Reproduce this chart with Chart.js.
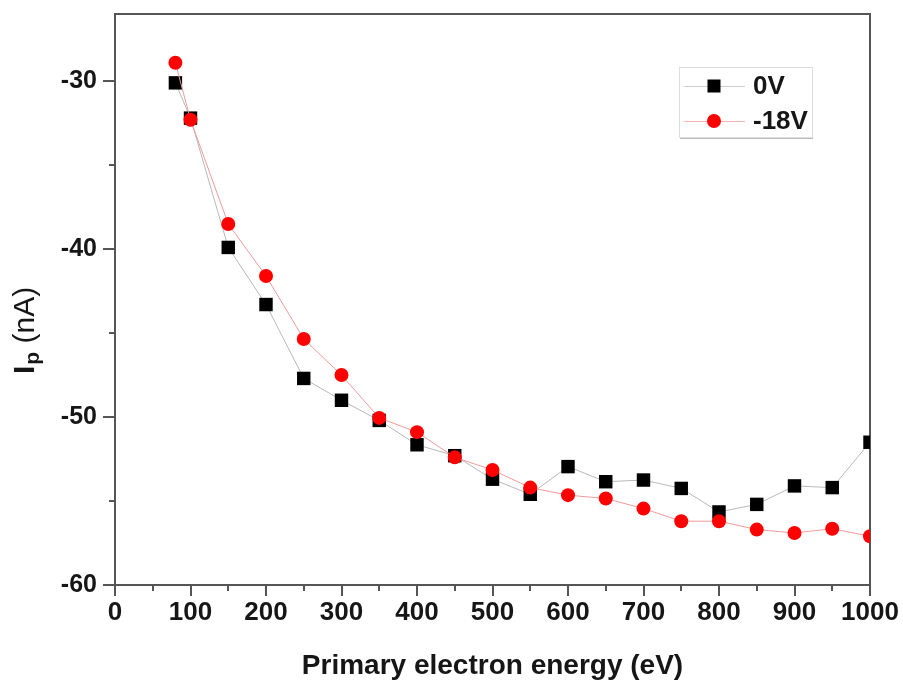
<!DOCTYPE html>
<html>
<head>
<meta charset="utf-8">
<script src="https://cdn.jsdelivr.net/npm/chart.js@4.4.0/dist/chart.umd.min.js"></script>
<style>
  html, body { margin: 0; padding: 0; background: #fff; }
  #wrap { width: 903px; height: 686px; }
</style>
</head>
<body>
<div id="wrap"><canvas id="grafico"></canvas></div>
<script>
// ===== DADOS =====
const energias = [80, 100, 150, 200, 250, 300, 350, 400, 450, 500, 550, 600, 650, 700, 750, 800, 850, 900, 950, 1000];
const corrente0V = [-30.1, -32.2, -39.9, -43.3, -47.7, -49.0, -50.2, -51.65, -52.3, -53.7, -54.6, -52.95, -53.85, -53.75, -54.25, -55.65, -55.2, -54.1, -54.2, -51.5];
const corrente18V = [-28.9, -32.3, -38.5, -41.6, -45.35, -47.5, -50.05, -50.9, -52.4, -53.15, -54.2, -54.65, -54.85, -55.45, -56.2, -56.2, -56.7, -56.9, -56.65, -57.1];
const nomesSeries = ['0V', '-18V'];
const ticksMaioresX = [0, 100, 200, 300, 400, 500, 600, 700, 800, 900, 1000];
const ticksMaioresY = [-60, -50, -40, -30];

const FONTE = '"Liberation Sans", Arial, sans-serif';
const COR_TEXTO = '#161616';
const COR_EIXO = '#555';

function pontos(ys) {
    return energias.map((e, i) => ({ x: e, y: ys[i] }));
}

// ===== MOLDURA + TICKS + TITULOS + LEGENDA =====
const molduraPlugin = {
    id: 'moldura',
    beforeDatasetsDraw(chart) {
        const { ctx, chartArea: a, scales: { x, y } } = chart;
        ctx.save();
        ctx.strokeStyle = COR_EIXO;
        ctx.lineWidth = 2;
        ctx.strokeRect(a.left, a.top, a.right - a.left, a.bottom - a.top);
        ctx.beginPath();
        for (let v = 0; v <= 1000; v += 50) {
            const px = Math.round(x.getPixelForValue(v));
            const len = ticksMaioresX.includes(v) ? 11 : 6;
            ctx.moveTo(px, a.bottom);
            ctx.lineTo(px, a.bottom + len);
        }
        for (let v = -60; v <= -30; v += 5) {
            const py = Math.round(y.getPixelForValue(v));
            const len = ticksMaioresY.includes(v) ? 12 : 6;
            ctx.moveTo(a.left, py);
            ctx.lineTo(a.left - len, py);
        }
        ctx.stroke();
        ctx.restore();
    },
    afterDraw(chart) {
        const { ctx, chartArea: a } = chart;
        ctx.save();
        ctx.fillStyle = COR_TEXTO;

        // titulo eixo X
        ctx.font = 'bold 28px ' + FONTE;
        ctx.textAlign = 'center';
        ctx.textBaseline = 'alphabetic';
        ctx.fillText('Primary electron energy (eV)', (a.left + a.right) / 2, 674);

        // titulo eixo Y (I com subscrito p)
        ctx.translate(34, 374);
        ctx.rotate(-Math.PI / 2);
        ctx.textAlign = 'left';
        ctx.font = 'bold 30px ' + FONTE;
        ctx.fillText('I', 0, 0);
        let off = ctx.measureText('I').width + 1;
        ctx.font = 'bold 21px ' + FONTE;
        ctx.fillText('p', off, 5);
        off += ctx.measureText('p').width;
        ctx.font = '30px ' + FONTE;
        ctx.fillText(' (nA)', off, 0);
        ctx.restore();

        // legenda
        const lx = 679, ly = 67, lw = 133, lh = 70;
        ctx.save();
        ctx.fillStyle = '#fff';
        ctx.fillRect(lx, ly, lw, lh);
        ctx.strokeStyle = '#ddd';
        ctx.lineWidth = 1;
        ctx.strokeRect(lx + 0.5, ly + 0.5, lw, lh);
        ctx.strokeStyle = '#bbb';
        ctx.beginPath();
        ctx.moveTo(lx + 1, ly + lh + 1.5);
        ctx.lineTo(lx + lw + 1, ly + lh + 1.5);
        ctx.stroke();

        const itens = [
            { nome: nomesSeries[0], cy: 86, linha: '#ccc' },
            { nome: nomesSeries[1], cy: 121, linha: '#f6b4b4' }
        ];
        itens.forEach((it, i) => {
            ctx.strokeStyle = it.linha;
            ctx.lineWidth = 1;
            ctx.beginPath();
            ctx.moveTo(684, it.cy + 0.5);
            ctx.lineTo(745, it.cy + 0.5);
            ctx.stroke();
            if (i === 0) {
                ctx.fillStyle = '#000';
                ctx.fillRect(714 - 6.5, it.cy - 6.5, 13, 13);
            } else {
                ctx.fillStyle = '#ff0000';
                ctx.beginPath();
                ctx.arc(714, it.cy, 7, 0, Math.PI * 2);
                ctx.fill();
            }
            ctx.fillStyle = COR_TEXTO;
            ctx.font = 'bold 26px ' + FONTE;
            ctx.textAlign = 'left';
            ctx.textBaseline = 'middle';
            ctx.fillText(it.nome, 753, it.cy + 1);
        });
        ctx.restore();
    }
};

// ===== GRAFICO =====
const ctxGrafico = document.getElementById('grafico').getContext('2d');
const grafico = new Chart(ctxGrafico, {
    type: 'scatter',
    data: {
        datasets: [
            {
                label: nomesSeries[0],
                data: pontos(corrente0V),
                showLine: true,
                borderColor: '#b8b8b8',
                borderWidth: 1,
                pointStyle: 'rect',
                pointRadius: 9.5,
                pointBackgroundColor: '#000',
                pointBorderColor: '#000',
                pointBorderWidth: 0,
                order: 2
            },
            {
                label: nomesSeries[1],
                data: pontos(corrente18V),
                showLine: true,
                borderColor: '#f29a9a',
                borderWidth: 1,
                pointStyle: 'circle',
                pointRadius: 7,
                pointBackgroundColor: '#ff0000',
                pointBorderColor: '#ff0000',
                pointBorderWidth: 0,
                order: 1
            }
        ]
    },
    options: {
        responsive: true,
        maintainAspectRatio: false,
        animation: false,
        layout: { padding: { top: 14, right: 33, bottom: 0, left: 0 } },
        plugins: {
            legend: { display: false },
            tooltip: { enabled: false }
        },
        scales: {
            x: {
                type: 'linear',
                min: 0,
                max: 1000,
                grid: { display: false, drawTicks: false },
                border: { display: false },
                afterFit(s) {
                    s.height = 101;
                    s.paddingLeft = 0;
                    s.paddingRight = 0;
                },
                ticks: {
                    stepSize: 100,
                    padding: 12,
                    color: COR_TEXTO,
                    font: { family: FONTE, size: 26, weight: 'bold' },
                    maxRotation: 0,
                    autoSkip: false,
                    callback: v => String(v)
                }
            },
            y: {
                type: 'linear',
                min: -60,
                max: -26,
                grid: { display: false, drawTicks: false },
                border: { display: false },
                afterFit(s) {
                    s.width = 115;
                    s.paddingTop = 0;
                    s.paddingBottom = 0;
                },
                ticks: {
                    stepSize: 5,
                    padding: 18,
                    color: COR_TEXTO,
                    font: { family: FONTE, size: 25, weight: 'bold' },
                    autoSkip: false,
                    callback: v => (v % 10 === 0 ? String(v) : '')
                }
            }
        }
    },
    plugins: [molduraPlugin]
});
</script>
</body>
</html>
